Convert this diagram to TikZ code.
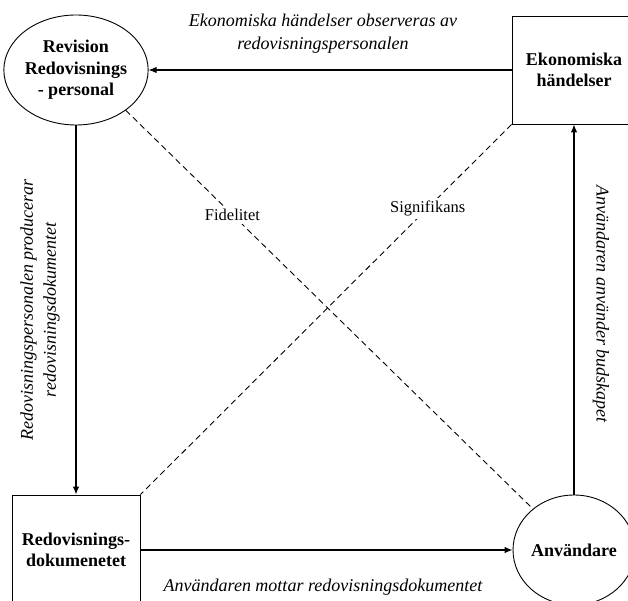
\documentclass[tikz,border=0pt]{standalone}
\usepackage{fontspec}
\setmainfont{Liberation Serif}
\usetikzlibrary{shapes.geometric,arrows.meta}
\begin{document}
\begin{tikzpicture}[x=1pt,y=-1pt,
  nodefont/.style={font=\fontsize{18}{21.5}\selectfont\bfseries, align=center},
  circ/.style={ellipse, draw, line width=0.9pt, inner sep=0pt, nodefont},
  boxnode/.style={rectangle, draw, line width=0.9pt, inner sep=0pt, nodefont},
  flow/.style={line width=1.1pt, -{Latex[length=8pt,width=6.5pt]}},
  dashline/.style={line width=0.9pt, dash pattern=on 6pt off 4pt},
  lab/.style={font=\fontsize{18}{23}\selectfont\itshape, align=center},
  mid/.style={font=\fontsize{16.5}{20}\selectfont, fill=white, inner sep=3pt}]
\useasboundingbox (0,0) rectangle (628,601);
\clip (0,0) rectangle (628,601);
\fill[white] (0,0) rectangle (628,601);

\node[circ, minimum width=128pt, minimum height=110pt] (rev) at (76,70) {Revision\\Redovisnings\\- personal};
\node[boxnode, minimum width=124pt, minimum height=108pt] (eko) at (574,70) {Ekonomiska\\händelser};
\node[boxnode, minimum width=128pt, minimum height=110pt] (dok) at (76,550) {Redovisnings-\\dokumenetet};
\node[circ, minimum width=122pt, minimum height=110pt] (anv) at (574,550) {Användare};

\draw[flow] (eko.west) -- (rev.east);
\draw[flow] (rev.south) -- (dok.north);
\draw[flow] (dok.east) -- (anv.west);
\draw[flow] (anv.north) -- (eko.south);

\draw[dashline] (rev.-39) -- node[pos=0.262, mid] (fid) {Fidelitet} (anv.135);
\draw[dashline] (eko.south west) -- node[pos=0.226, mid] (sig) {Signifikans} (dok.north east);

\node[lab] (ltop) at (323,34) {Ekonomiska händelser observeras av\\redovisningspersonalen};
\node[lab, rotate=90] (lleft) at (40,310) {Redovisningspersonalen producerar\\redovisningsdokumentet};
\node[lab, rotate=-90] (lright) at (601,304) {Användaren använder budskapet};
\node[lab] (lbot) at (323,587) {Användaren mottar redovisningsdokumentet};
\end{tikzpicture}
\end{document}
